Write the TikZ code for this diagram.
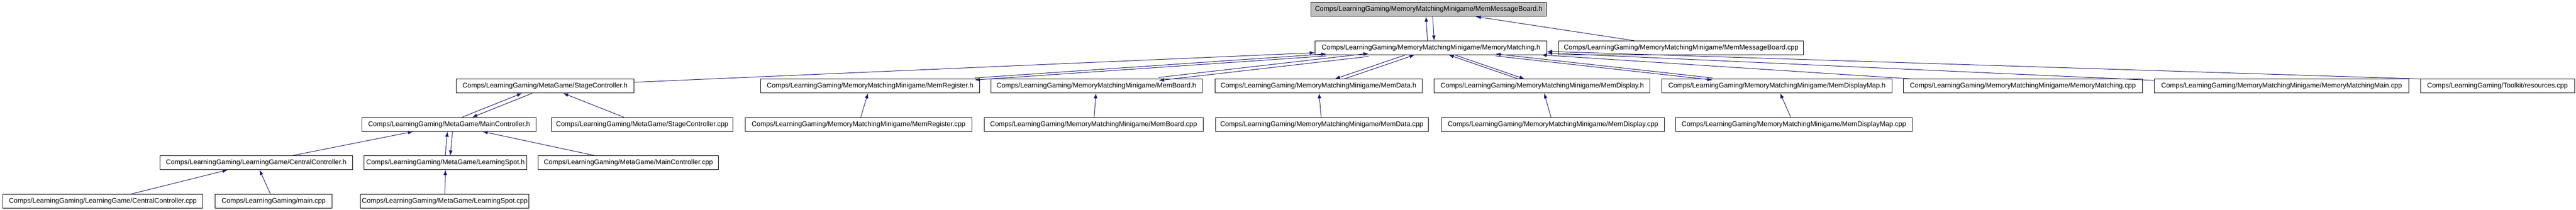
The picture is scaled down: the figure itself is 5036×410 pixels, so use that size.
\documentclass[tikz,border=0pt]{standalone}
\usepackage{fontspec}
\setmainfont{Liberation Sans}
\usetikzlibrary{arrows.meta}
\definecolor{edgeblue}{HTML}{191970}
\definecolor{rootgray}{HTML}{BFBFBF}
\newcommand\gnode[6][]{\node[nbox,#1,minimum width={(#4-#3)*0.5pt}] (#2) at ({(#3+#4)/2},{18.5+75*#5}) {#6};}
\begin{document}
\begin{tikzpicture}[x=0.5pt,y=-0.5pt,
  nbox/.style={draw=black, line width=0.5pt, fill=white, inner sep=0pt, minimum height=13.5pt, font=\fontsize{6.7}{8}\selectfont, anchor=center},
  root/.style={fill=rootgray},
  e/.style={draw=edgeblue, line width=0.5pt, -{Latex[length=5pt,width=3.6pt]}}]
\useasboundingbox (0,0) rectangle (5036,410);
% row 0
\gnode[root]{mmbh}{2563}{3023}{0}{Comps/LearningGaming/MemoryMatchingMinigame/MemMessageBoard.h}
% row 1
\gnode{mmh}{2571}{3024}{1}{Comps/LearningGaming/MemoryMatchingMinigame/MemoryMatching.h}
\gnode{mmbc}{3047}{3526}{1}{Comps/LearningGaming/MemoryMatchingMinigame/MemMessageBoard.cpp}
% row 2
\gnode{sch}{892}{1239}{2}{Comps/LearningGaming/MetaGame/StageController.h}
\gnode{mrh}{1487}{1915}{2}{Comps/LearningGaming/MemoryMatchingMinigame/MemRegister.h}
\gnode{mbh}{1937}{2350}{2}{Comps/LearningGaming/MemoryMatchingMinigame/MemBoard.h}
\gnode{mdh}{2375}{2780}{2}{Comps/LearningGaming/MemoryMatchingMinigame/MemData.h}
\gnode{mdsh}{2804}{3226}{2}{Comps/LearningGaming/MemoryMatchingMinigame/MemDisplay.h}
\gnode{mdmh}{3249}{3699}{2}{Comps/LearningGaming/MemoryMatchingMinigame/MemDisplayMap.h}
\gnode{mmc}{3721}{4188}{2}{Comps/LearningGaming/MemoryMatchingMinigame/MemoryMatching.cpp}
\gnode{mmmc}{4212}{4709}{2}{Comps/LearningGaming/MemoryMatchingMinigame/MemoryMatchingMain.cpp}
\gnode{resc}{4732}{5033}{2}{Comps/LearningGaming/Toolkit/resources.cpp}
% row 3
\gnode{mch}{708}{1048}{3}{Comps/LearningGaming/MetaGame/MainController.h}
\gnode{scc}{1078}{1433}{3}{Comps/LearningGaming/MetaGame/StageController.cpp}
\gnode{mrc}{1457}{1900}{3}{Comps/LearningGaming/MemoryMatchingMinigame/MemRegister.cpp}
\gnode{mbc}{1924}{2352}{3}{Comps/LearningGaming/MemoryMatchingMinigame/MemBoard.cpp}
\gnode{mdc}{2376}{2792}{3}{Comps/LearningGaming/MemoryMatchingMinigame/MemData.cpp}
\gnode{mdsc}{2818}{3254}{3}{Comps/LearningGaming/MemoryMatchingMinigame/MemDisplay.cpp}
\gnode{mdmc}{3276}{3738}{3}{Comps/LearningGaming/MemoryMatchingMinigame/MemDisplayMap.cpp}
% row 4
\gnode{cch}{313}{689}{4}{Comps/LearningGaming/LearningGame/CentralController.h}
\gnode{lsh}{712}{1030}{4}{Comps/LearningGaming/MetaGame/LearningSpot.h}
\gnode{mcc}{1052}{1405}{4}{Comps/LearningGaming/MetaGame/MainController.cpp}
% row 5
\gnode{ccc}{6}{396}{5}{Comps/LearningGaming/LearningGame/CentralController.cpp}
\gnode{mainc}{421}{649}{5}{Comps/LearningGaming/main.cpp}
\gnode{lsc}{705}{1034}{5}{Comps/LearningGaming/MetaGame/LearningSpot.cpp}
% edges
\draw[e, transform canvas={xshift=-3pt}] (mmh) -- (mmbh);
\draw[e, transform canvas={xshift=3.5pt}] (mmbh) -- (mmh);
\draw[e] (mmbc) -- (mmbh);
\draw[e] (sch) -- (mmh);
\draw[e, transform canvas={yshift=1pt}] (mrh) -- (mmh);
\draw[e, transform canvas={yshift=-1pt}] (mmh) -- (mrh);
\draw[e, transform canvas={yshift=1.5pt}] (mbh) -- (mmh);
\draw[e, transform canvas={yshift=-1.5pt}] (mmh) -- (mbh);
\draw[e, transform canvas={xshift=4.5pt}] (mdh) -- (mmh);
\draw[e, transform canvas={xshift=-4.5pt}] (mmh) -- (mdh);
\draw[e, transform canvas={xshift=-3pt}] (mdsh) -- (mmh);
\draw[e, transform canvas={xshift=3pt}] (mmh) -- (mdsh);
\draw[e, transform canvas={yshift=1pt}] (mdmh) -- (mmh);
\draw[e, transform canvas={yshift=-1pt}] (mmh) -- (mdmh);
\draw[e] (mmc) -- (mmh);
\draw[e] (mmmc) -- (mmh);
\draw[e] (resc.north west) -- (mmh);
\draw[e, transform canvas={xshift=-5pt}] (mch) -- (sch);
\draw[e, transform canvas={xshift=5pt}] (sch) -- (mch);
\draw[e] (scc) -- (sch);
\draw[e] (mrc) -- (mrh);
\draw[e] (mbc) -- (mbh);
\draw[e] (mdc) -- (mdh);
\draw[e] (mdsc) -- (mdsh);
\draw[e] (mdmc) -- (mdmh);
\draw[e] (cch) -- (mch);
\draw[e, transform canvas={xshift=-1pt}] (lsh) -- (mch);
\draw[e, transform canvas={xshift=4pt}] (mch) -- (lsh);
\draw[e] (mcc) -- (mch);
\draw[e] (ccc) -- (cch);
\draw[e] (mainc) -- (cch);
\draw[e] (lsc) -- (lsh);
\end{tikzpicture}
\end{document}
